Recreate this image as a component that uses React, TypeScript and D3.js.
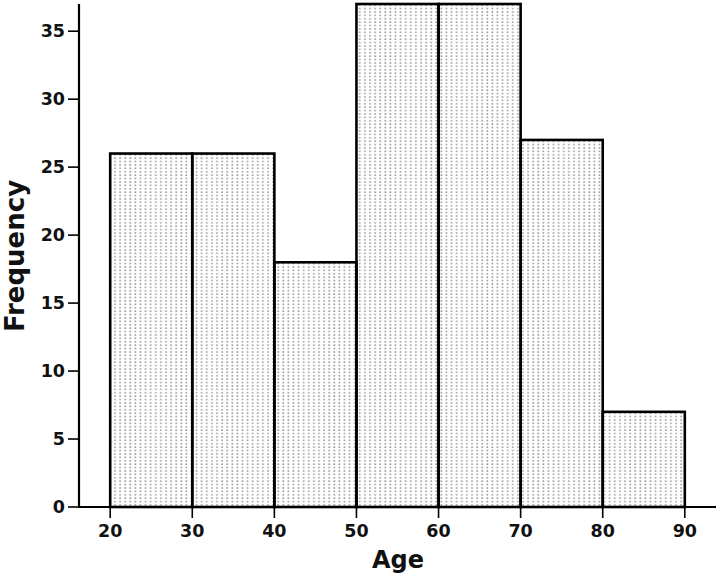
import React from "react";
import * as d3 from "d3";

const binStarts = [20, 30, 40, 50, 60, 70, 80];
const binWidth = 10;
const frequencies = [26, 26, 18, 37, 37, 27, 7];
const yTicks = [0, 5, 10, 15, 20, 25, 30, 35];
const xTicks = [20, 30, 40, 50, 60, 70, 80, 90];
const xLabel = "Age";
const yLabel = "Frequency";

export default function App() {
  const W = 720, H = 578;
  const x = d3.scaleLinear().domain([16.2, 93.8]).range([79, 716]);
  const y = d3.scaleLinear().domain([0, 37]).range([507, 4]);
  const font = "'DejaVu Sans', Verdana, sans-serif";
  return (
    <svg width={W} height={H} style={{ position: "absolute", left: 0, top: 0, background: "#fff" }}>
      <defs>
        <pattern id="dots" patternUnits="userSpaceOnUse" width={5.1} height={3.4} x={0} y={0}>
          <rect x={2} y={1} width={1.6} height={1.6} fill="#9a9a9a" />
        </pattern>
      </defs>
      {binStarts.map((s, i) => (
        <rect
          key={s}
          x={x(s)}
          y={y(frequencies[i])}
          width={x(s + binWidth) - x(s)}
          height={y(0) - y(frequencies[i])}
          fill="url(#dots)"
          stroke="#000"
          strokeWidth={2.6}
        />
      ))}
      <line x1={x.range()[0]} x2={x.range()[1]} y1={y(0)} y2={y(0)} stroke="#000" strokeWidth={2.2} />
      <line x1={x.range()[0]} x2={x.range()[0]} y1={y.range()[0] + 1} y2={y.range()[1]} stroke="#000" strokeWidth={2.2} />
      {yTicks.map((t) => (
        <g key={t}>
          <line x1={68} x2={79} y1={y(t)} y2={y(t)} stroke="#000" strokeWidth={1.6} />
          <text x={65} y={y(t)} dy="0.36em" textAnchor="end" fontFamily={font} fontWeight="bold" fontSize={17.5} fill="#111">
            {t}
          </text>
        </g>
      ))}
      {xTicks.map((t) => (
        <g key={t}>
          <line x1={x(t)} x2={x(t)} y1={y(0)} y2={y(0) + 11} stroke="#000" strokeWidth={1.6} />
          <text x={x(t)} y={537} textAnchor="middle" fontFamily={font} fontWeight="bold" fontSize={17.5} fill="#111">
            {t}
          </text>
        </g>
      ))}
      <text x={398} y={568} textAnchor="middle" fontFamily={font} fontWeight="bold" fontSize={24} fill="#111">
        {xLabel}
      </text>
      <text
        transform={`translate(24,256) rotate(-90)`}
        textAnchor="middle"
        fontFamily={font}
        fontWeight="bold"
        fontSize={26}
        fill="#111"
      >
        {yLabel}
      </text>
    </svg>
  );
}
